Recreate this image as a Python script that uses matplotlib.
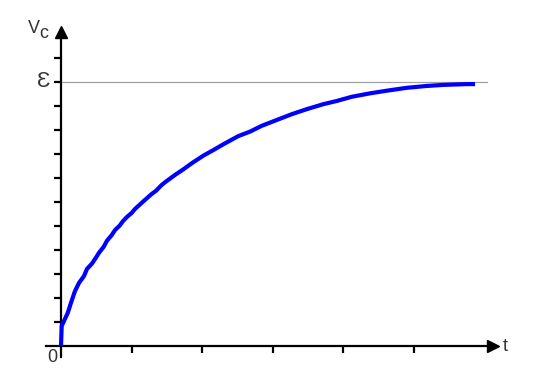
import matplotlib
matplotlib.use("Agg")
import matplotlib.pyplot as plt

# Data (t in units of x-tick spacing, V as fraction of the source emf)
t_vals = [0.0, 0.01, 0.095, 0.152, 0.198, 0.255, 0.326, 0.368, 0.435, 0.491,
          0.538, 0.605, 0.652, 0.718, 0.765, 0.831, 0.878, 0.935, 1.001, 1.048,
          1.171, 1.285, 1.346, 1.426, 1.497, 1.615, 1.732, 1.851, 2.016, 2.157,
          2.299, 2.511, 2.677, 2.843, 3.055, 3.268, 3.480, 3.715, 3.905, 4.118,
          4.377, 4.613, 4.897, 5.180, 5.415, 5.746, 5.864]
v_vals = [0.0, 0.076, 0.125, 0.172, 0.208, 0.239, 0.265, 0.292, 0.311, 0.333,
          0.353, 0.376, 0.399, 0.420, 0.439, 0.456, 0.473, 0.489, 0.504, 0.519,
          0.549, 0.576, 0.588, 0.610, 0.625, 0.648, 0.669, 0.692, 0.721, 0.742,
          0.764, 0.795, 0.812, 0.834, 0.856, 0.878, 0.897, 0.916, 0.928, 0.944,
          0.957, 0.967, 0.978, 0.985, 0.989, 0.992, 0.992]
x_ticks = [1, 2, 3, 4, 5]
y_ticks = [k / 11 for k in range(1, 13)]
emf_level = 1.0
emf_label = "\u0190"
y_label = "V"
y_sub = "c"
x_label = "t"
origin_label = "0"

fam = ["Liberation Sans", "DejaVu Sans"]

fig = plt.figure(figsize=(5.37, 3.87), dpi=100)
ax = fig.add_axes([0, 0, 1, 1])
ax.set_xlim(-0.864, 6.742)
ax.set_ylim(-0.1553, 1.3106)

for s in ["top", "right"]:
    ax.spines[s].set_visible(False)
ax.spines["left"].set_position(("data", 0))
ax.spines["bottom"].set_position(("data", 0))
ax.spines["left"].set_bounds(-0.042, 1.19)
ax.spines["bottom"].set_bounds(-0.212, 6.1)
for s in ["left", "bottom"]:
    ax.spines[s].set_linewidth(1.6)
    ax.spines[s].set_color("black")

ax.set_xticks(x_ticks)
ax.set_yticks(y_ticks)
ax.set_xticklabels([])
ax.set_yticklabels([])
ax.tick_params(axis="both", direction="out", length=5, width=1.6, color="black")

# emf level line
ax.plot([0, 6.03], [emf_level, emf_level], color="#a0a0a0", lw=0.9, zorder=1)

# charging curve
ax.plot(t_vals, v_vals, color="#0000ff", lw=3.0, solid_capstyle="butt", zorder=3)

# arrow heads
ax.plot([0], [1.19], marker="^", color="black", markersize=8, clip_on=False, zorder=4)
ax.plot([6.12], [0], marker=">", color="black", markersize=8, clip_on=False, zorder=4)

tc = "#333333"
ax.text(-0.15, emf_level, emf_label, fontsize=16, color=tc, ha="right", va="center", family=fam)
ax.text(-0.47, 1.186, y_label, fontsize=13, color=tc, ha="left", va="baseline", family=fam)
ax.text(-0.305, 1.167, y_sub, fontsize=13, color=tc, ha="left", va="baseline", family=fam)
ax.text(6.26, 0.0, x_label, fontsize=13, color=tc, ha="left", va="center", family=fam)
ax.text(-0.125, -0.042, origin_label, fontsize=13, color=tc, ha="center", va="center", family=fam)

fig.savefig("out.png", dpi=100)
